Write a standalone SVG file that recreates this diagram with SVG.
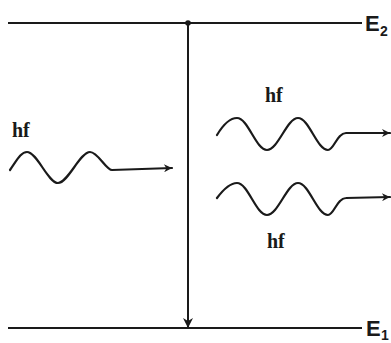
<svg xmlns="http://www.w3.org/2000/svg" width="391" height="343" viewBox="0 0 391 343">
<style>
.ln{stroke:#1a1a1a;stroke-width:2;fill:none}
.wv{stroke:#1a1a1a;stroke-width:2.2;fill:none;stroke-linejoin:round;stroke-linecap:round}
.hf{font-family:"Liberation Serif",serif;font-weight:bold;font-size:20px;fill:#1a1a1a}
.e{font-family:"Liberation Sans",sans-serif;font-weight:bold;font-size:22px;fill:#1a1a1a}
.s{font-family:"Liberation Sans",sans-serif;font-weight:bold;font-size:14px;fill:#1a1a1a}
</style>
<defs>
<marker id="ah" viewBox="0 0 10 10" refX="10" refY="5" markerWidth="12" markerHeight="8" markerUnits="userSpaceOnUse" orient="auto">
<path d="M0,0 L10,5 L0,10 L3,5 Z" fill="#1a1a1a"/>
</marker>
<marker id="ahv" viewBox="0 0 10 10" refX="10" refY="5" markerWidth="14" markerHeight="10" markerUnits="userSpaceOnUse" orient="auto">
<path d="M0,0 L10,5 L0,10 L3,5 Z" fill="#1a1a1a"/>
</marker>
</defs>
<rect width="391" height="343" fill="#ffffff"/>
<g id="level-E2">
<line class="ln" x1="8" y1="23" x2="362" y2="23"/>
<text class="e" x="365" y="31">E</text><text class="s" x="380" y="36">2</text>
</g>
<g id="level-E1">
<line class="ln" x1="8" y1="328" x2="362" y2="328"/>
<text class="e" x="366" y="336">E</text><text class="s" x="381" y="340">1</text>
</g>
<g id="connectors">
<circle cx="188" cy="23" r="2.8" fill="#1a1a1a"/>
<line class="ln" x1="188" y1="23" x2="188" y2="328" marker-end="url(#ahv)"/>
</g>
<g id="photon-in">
<text class="hf" x="12" y="137">hf</text>
<path class="wv" d="M10,170 C17,160 21,152 27,152 C37,152 48,183 58,183 C68,183 80,152 90,152 C98,152 106,170 112,170 L172,168" marker-end="url(#ah)"/>
</g>
<g id="photon-out-1">
<text class="hf" x="265" y="102">hf</text>
<path class="wv" d="M217,135 C223,125 230,118 237,118 C248,118 256,150 267,150 C278,150 287,118 298,118 C309,118 317,150 328,150 C334,150 337,133 346,133 L390,133" marker-end="url(#ah)"/>
</g>
<g id="photon-out-2">
<text class="hf" x="267" y="248">hf</text>
<path class="wv" d="M217,198 C223,190 230,183 237,183 C248,183 256,215 267,215 C278,215 287,183 298,183 C309,183 317,215 328,215 C334,215 337,198 346,198 L390,197" marker-end="url(#ah)"/>
</g>
</svg>
